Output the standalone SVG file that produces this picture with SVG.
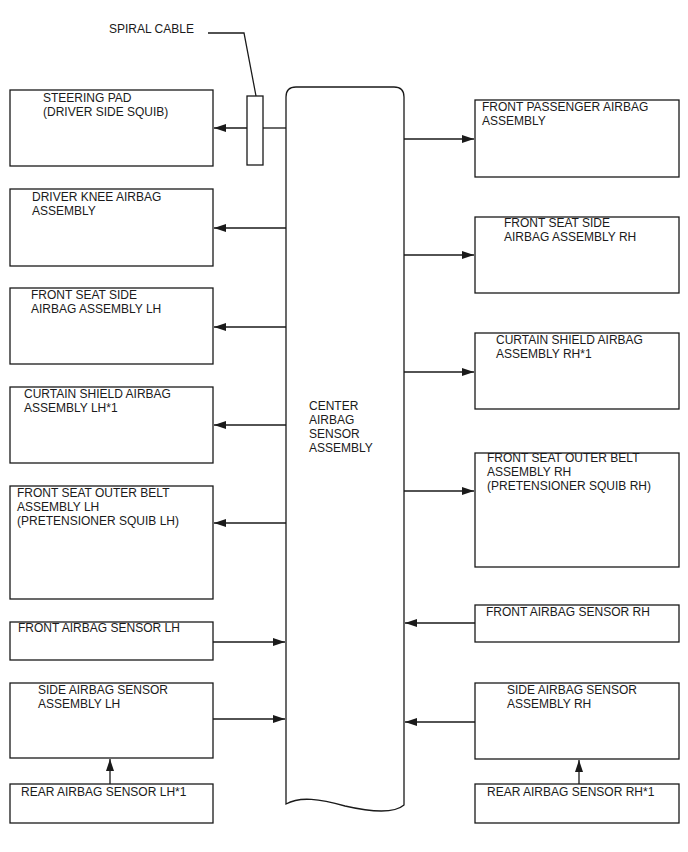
<svg xmlns="http://www.w3.org/2000/svg" width="688" height="852" viewBox="0 0 688 852">
<style>
.box{fill:#fff;stroke:#1a1a1a;stroke-width:1.3}
.ln{fill:none;stroke:#1a1a1a;stroke-width:1.3}
text{font-family:"Liberation Sans",Arial,sans-serif;font-size:12px;fill:#1a1a1a}
</style>
<defs>
<marker id="ah" viewBox="0 0 12 8" refX="12" refY="4" markerWidth="12" markerHeight="8" markerUnits="userSpaceOnUse" orient="auto">
<path d="M0,0 L12,4 L0,8 Z" fill="#1a1a1a"/>
</marker>
</defs>
<rect width="688" height="852" fill="#fff"/>
<g id="connectors">
<line class="ln" x1="286" y1="128" x2="263" y2="128"/>
<line class="ln" x1="247" y1="128" x2="214" y2="128" marker-end="url(#ah)"/>
<line class="ln" x1="286" y1="228" x2="214" y2="228" marker-end="url(#ah)"/>
<line class="ln" x1="286" y1="327" x2="214" y2="327" marker-end="url(#ah)"/>
<line class="ln" x1="286" y1="425" x2="214" y2="425" marker-end="url(#ah)"/>
<line class="ln" x1="286" y1="523" x2="214" y2="523" marker-end="url(#ah)"/>
<line class="ln" x1="213" y1="642" x2="285" y2="642" marker-end="url(#ah)"/>
<line class="ln" x1="213" y1="719" x2="285" y2="719" marker-end="url(#ah)"/>
<line class="ln" x1="110" y1="784" x2="110" y2="759" marker-end="url(#ah)"/>
<line class="ln" x1="404" y1="139" x2="474" y2="139" marker-end="url(#ah)"/>
<line class="ln" x1="404" y1="255" x2="474" y2="255" marker-end="url(#ah)"/>
<line class="ln" x1="404" y1="372" x2="474" y2="372" marker-end="url(#ah)"/>
<line class="ln" x1="404" y1="491" x2="474" y2="491" marker-end="url(#ah)"/>
<line class="ln" x1="475" y1="623" x2="405" y2="623" marker-end="url(#ah)"/>
<line class="ln" x1="475" y1="722" x2="405" y2="722" marker-end="url(#ah)"/>
<line class="ln" x1="579" y1="784" x2="579" y2="760" marker-end="url(#ah)"/>
<path class="ln" d="M208,33 H244 L256,96"/>
</g>
<g id="spiral-cable">
<rect class="box" x="247" y="96" width="16" height="69"/>
<text x="109" y="33">SPIRAL CABLE</text>
</g>
<g id="center">
<path class="box" d="M296,87 H394 Q404,87 404,97 V805 C396,812 380,814 345,806 C320,799 300,796 286,804 V97 Q286,87 296,87 Z"/>
<text x="309" y="410">CENTER</text>
<text x="309" y="424">AIRBAG</text>
<text x="309" y="438">SENSOR</text>
<text x="309" y="452">ASSEMBLY</text>
</g>
<g id="steering-pad">
<rect class="box" x="10" y="90" width="203" height="76"/>
<text x="43" y="102">STEERING PAD</text>
<text x="43" y="116">(DRIVER SIDE SQUIB)</text>
</g>
<g id="driver-knee">
<rect class="box" x="10" y="189" width="203" height="77"/>
<text x="32" y="201">DRIVER KNEE AIRBAG</text>
<text x="32" y="215">ASSEMBLY</text>
</g>
<g id="front-seat-side-lh">
<rect class="box" x="10" y="288" width="203" height="76"/>
<text x="31" y="299">FRONT SEAT SIDE</text>
<text x="31" y="313">AIRBAG ASSEMBLY LH</text>
</g>
<g id="curtain-lh">
<rect class="box" x="10" y="387" width="203" height="76"/>
<text x="24" y="398">CURTAIN SHIELD AIRBAG</text>
<text x="24" y="412">ASSEMBLY LH*1</text>
</g>
<g id="belt-lh">
<rect class="box" x="10" y="486" width="203" height="113"/>
<text x="17" y="497">FRONT SEAT OUTER BELT</text>
<text x="17" y="511">ASSEMBLY LH</text>
<text x="17" y="525">(PRETENSIONER SQUIB LH)</text>
</g>
<g id="front-sensor-lh">
<rect class="box" x="10" y="622" width="203" height="38"/>
<text x="18" y="632">FRONT AIRBAG SENSOR LH</text>
</g>
<g id="side-sensor-lh">
<rect class="box" x="10" y="683" width="203" height="75"/>
<text x="38" y="694">SIDE AIRBAG SENSOR</text>
<text x="38" y="708">ASSEMBLY LH</text>
</g>
<g id="rear-sensor-lh">
<rect class="box" x="10" y="784" width="203" height="39"/>
<text x="21" y="796">REAR AIRBAG SENSOR LH*1</text>
</g>
<g id="front-passenger">
<rect class="box" x="475" y="100" width="204" height="77"/>
<text x="482" y="111">FRONT PASSENGER AIRBAG</text>
<text x="482" y="125">ASSEMBLY</text>
</g>
<g id="front-seat-side-rh">
<rect class="box" x="475" y="217" width="204" height="76"/>
<text x="504" y="227">FRONT SEAT SIDE</text>
<text x="504" y="241">AIRBAG ASSEMBLY RH</text>
</g>
<g id="curtain-rh">
<rect class="box" x="475" y="333" width="204" height="76"/>
<text x="496" y="344">CURTAIN SHIELD AIRBAG</text>
<text x="496" y="358">ASSEMBLY RH*1</text>
</g>
<g id="belt-rh">
<rect class="box" x="475" y="453" width="204" height="114"/>
<text x="487" y="462">FRONT SEAT OUTER BELT</text>
<text x="487" y="476">ASSEMBLY RH</text>
<text x="487" y="490">(PRETENSIONER SQUIB RH)</text>
</g>
<g id="front-sensor-rh">
<rect class="box" x="475" y="605" width="204" height="37"/>
<text x="486" y="616">FRONT AIRBAG SENSOR RH</text>
</g>
<g id="side-sensor-rh">
<rect class="box" x="475" y="683" width="204" height="76"/>
<text x="507" y="694">SIDE AIRBAG SENSOR</text>
<text x="507" y="708">ASSEMBLY RH</text>
</g>
<g id="rear-sensor-rh">
<rect class="box" x="475" y="784" width="204" height="39"/>
<text x="487" y="796">REAR AIRBAG SENSOR RH*1</text>
</g>
</svg>
